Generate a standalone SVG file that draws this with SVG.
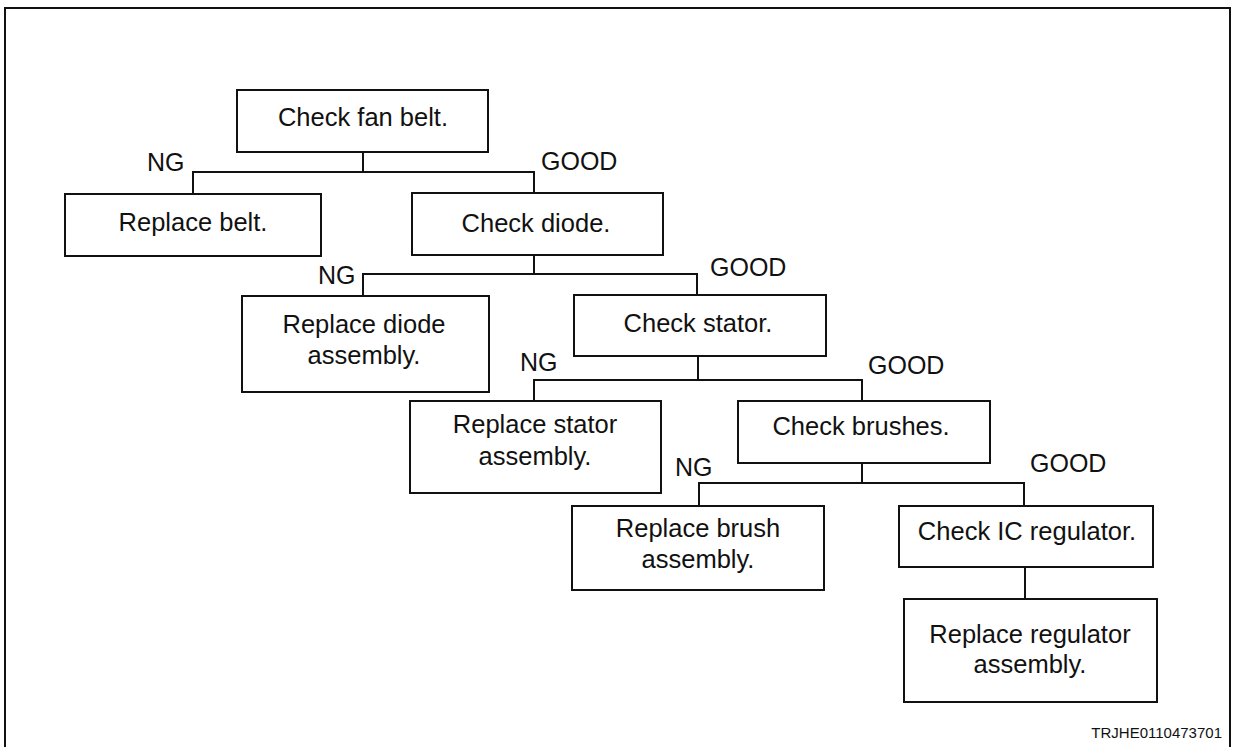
<svg xmlns="http://www.w3.org/2000/svg" width="1234" height="747" viewBox="0 0 1234 747">
  <style>
    .box { fill: #ffffff; stroke: #111111; stroke-width: 2; }
    .wire { fill: none; stroke: #111111; stroke-width: 2; }
    .t { font-family: "Liberation Sans", Arial, sans-serif; font-size: 25.5px; fill: #111111; text-anchor: middle; }
    .lbl { font-family: "Liberation Sans", Arial, sans-serif; font-size: 25px; fill: #111111; }
    .code { font-family: "Liberation Sans", Arial, sans-serif; font-size: 15px; fill: #111111; text-anchor: end; }
  </style>
  <rect width="1234" height="747" fill="#ffffff"/>

  <!-- outer frame, open at the bottom -->
  <path d="M5,747 V8 H1230 V747" fill="none" stroke="#111111" stroke-width="2"/>

  <!-- branch connectors -->
  <g id="connectors" class="wire">
    <path d="M363,152 V172"/>
    <path d="M193,194 V172 H534 V193"/>
    <path d="M534,255 V274"/>
    <path d="M363,296 V274 H697 V295"/>
    <path d="M698,356 V380"/>
    <path d="M534,401 V380 H862 V401"/>
    <path d="M862,463 V483"/>
    <path d="M699,506 V483 H1024 V506"/>
    <path d="M1025,567 V599"/>
  </g>

  <!-- branch labels -->
  <g id="labels">
    <text class="lbl" x="147" y="171">NG</text>
    <text class="lbl" x="541" y="170">GOOD</text>
    <text class="lbl" x="318" y="284">NG</text>
    <text class="lbl" x="710" y="276">GOOD</text>
    <text class="lbl" x="520" y="371">NG</text>
    <text class="lbl" x="868" y="374">GOOD</text>
    <text class="lbl" x="675" y="476">NG</text>
    <text class="lbl" x="1030" y="472">GOOD</text>
  </g>

  <g id="check-fan-belt">
    <rect class="box" x="237" y="90" width="251" height="62"/>
    <text class="t" x="363" y="126">Check fan belt.</text>
  </g>
  <g id="replace-belt">
    <rect class="box" x="65" y="194" width="256" height="62"/>
    <text class="t" x="193" y="231">Replace belt.</text>
  </g>
  <g id="check-diode">
    <rect class="box" x="412" y="193" width="251" height="62"/>
    <text class="t" x="536" y="232">Check diode.</text>
  </g>
  <g id="replace-diode">
    <rect class="box" x="242" y="296" width="247" height="96"/>
    <text class="t" x="364" y="333">Replace diode</text>
    <text class="t" x="364" y="364">assembly.</text>
  </g>
  <g id="check-stator">
    <rect class="box" x="574" y="295" width="252" height="61"/>
    <text class="t" x="698" y="332">Check stator.</text>
  </g>
  <g id="replace-stator">
    <rect class="box" x="410" y="401" width="251" height="92"/>
    <text class="t" x="535" y="433">Replace stator</text>
    <text class="t" x="535" y="465">assembly.</text>
  </g>
  <g id="check-brushes">
    <rect class="box" x="738" y="401" width="252" height="62"/>
    <text class="t" x="861" y="435">Check brushes.</text>
  </g>
  <g id="replace-brush">
    <rect class="box" x="572" y="506" width="252" height="84"/>
    <text class="t" x="698" y="537">Replace brush</text>
    <text class="t" x="698" y="568">assembly.</text>
  </g>
  <g id="check-ic-regulator">
    <rect class="box" x="899" y="506" width="254" height="61"/>
    <text class="t" x="1027" y="540">Check IC regulator.</text>
  </g>
  <g id="replace-regulator">
    <rect class="box" x="904" y="599" width="253" height="103"/>
    <text class="t" x="1030" y="643">Replace regulator</text>
    <text class="t" x="1030" y="673">assembly.</text>
  </g>

  <text class="code" x="1222" y="738">TRJHE0110473701</text>
</svg>
